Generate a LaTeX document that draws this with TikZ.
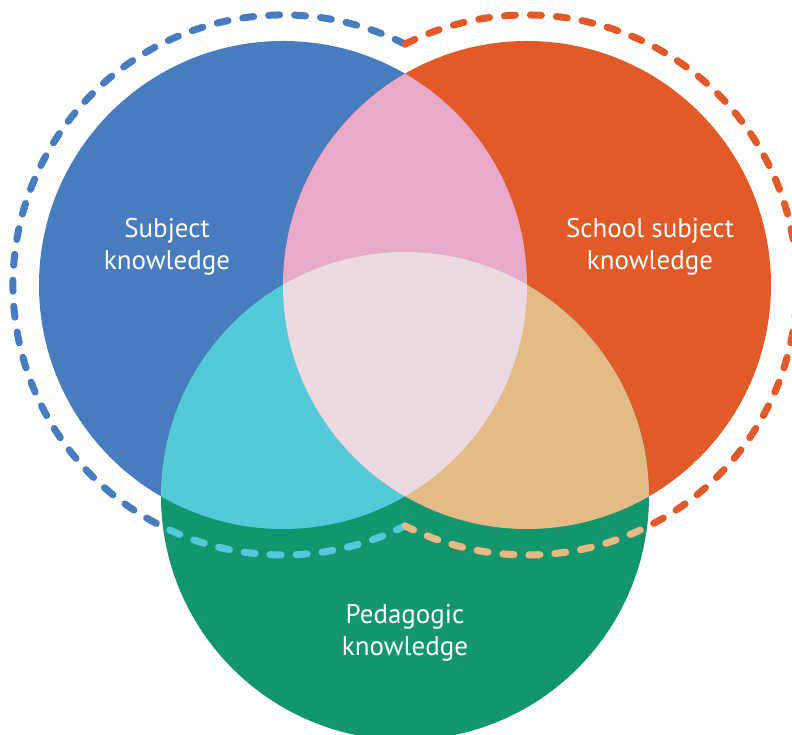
\documentclass[tikz,border=0pt]{standalone}
\usepackage{fontspec}
\setmainfont{PT Sans}
\definecolor{cblue}{HTML}{477CBF}
\definecolor{corange}{HTML}{E25A28}
\definecolor{cgreen}{HTML}{12966E}
\definecolor{cpink}{HTML}{E9A9C9}
\definecolor{ccyan}{HTML}{54C9DA}
\definecolor{ctan}{HTML}{E4BB87}
\definecolor{ccenter}{HTML}{ECD9E1}
\begin{document}
\begin{tikzpicture}[x=1pt,y=1pt,
  dsh/.style={line width=7pt, line cap=round, dash pattern=on 11pt off 15pt},
  lbl/.style={text=white, font=\fontsize{27}{32}\selectfont, align=center, inner sep=0pt}]
\useasboundingbox (0,0) rectangle (792,735);
\clip (0,0) rectangle (792,735);
\coordinate (A) at (283,450);
\coordinate (B) at (527,450);
\coordinate (C) at (405,239);
\def\R{244}
\fill[cblue] (A) circle[radius=\R];
\fill[corange] (B) circle[radius=\R];
\fill[cgreen] (C) circle[radius=\R];
\begin{scope}\clip (A) circle[radius=\R]; \fill[cpink] (B) circle[radius=\R];\end{scope}
\begin{scope}\clip (A) circle[radius=\R]; \fill[ccyan] (C) circle[radius=\R];\end{scope}
\begin{scope}\clip (B) circle[radius=\R]; \fill[ctan] (C) circle[radius=\R];\end{scope}
\begin{scope}\clip (A) circle[radius=\R]; \clip (B) circle[radius=\R]; \fill[ccenter] (C) circle[radius=\R];\end{scope}
\draw[dsh, cblue] (A) ++(63.14:270) arc[start angle=63.14, end angle=296.86, radius=270];
\draw[dsh, corange] (B) ++(116.86:270) arc[start angle=116.86, end angle=-116.86, radius=270];
\begin{scope}
\clip (C) circle[radius=\R];
\draw[dsh, ccyan] (A) ++(63.14:270) arc[start angle=63.14, end angle=296.86, radius=270];
\draw[dsh, ctan] (B) ++(116.86:270) arc[start angle=116.86, end angle=-116.86, radius=270];
\end{scope}
\node[lbl] (subj) at (167,488) {Subject\\knowledge};
\node[lbl] (school) at (650,488) {School subject\\knowledge};
\node[lbl] (ped) at (405,102) {Pedagogic\\knowledge};
\end{tikzpicture}
\end{document}
